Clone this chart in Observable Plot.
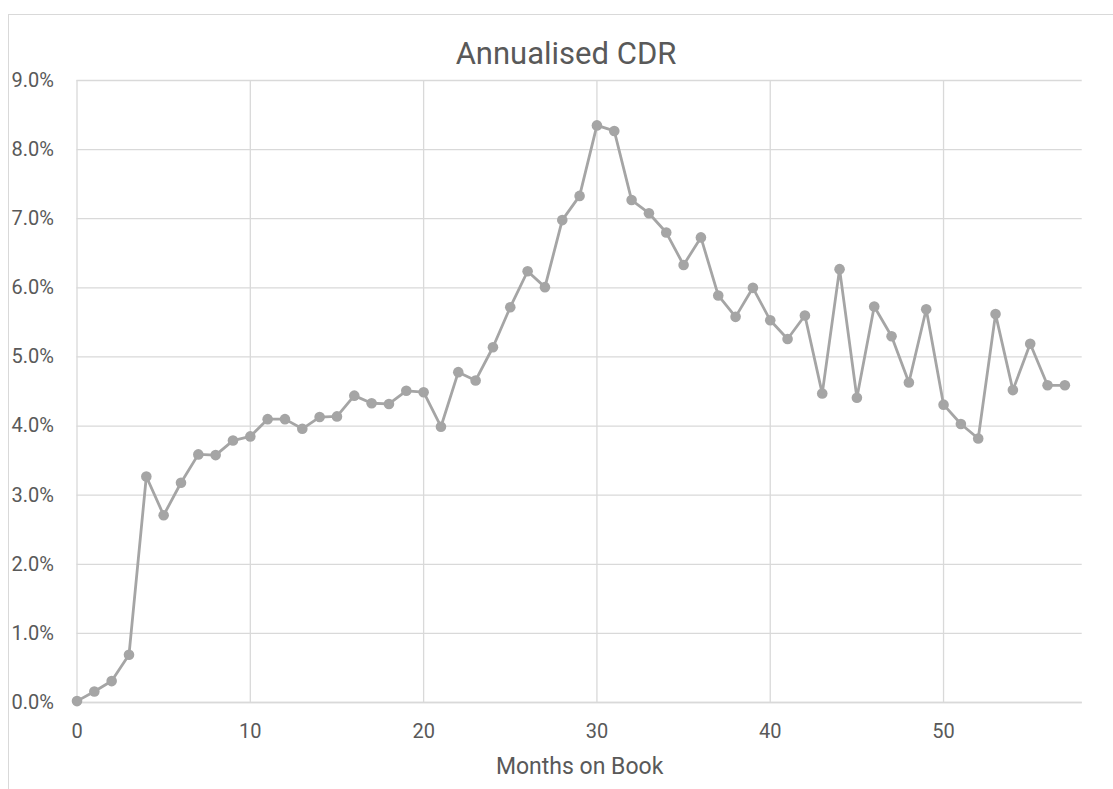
<!DOCTYPE html>
<html>
<head>
<meta charset="utf-8">
<script src="https://cdn.jsdelivr.net/npm/d3@7"></script>
<script src="https://cdn.jsdelivr.net/npm/@observablehq/plot@0.6"></script>
<style>
  html, body { margin: 0; padding: 0; background: #fff; }
  #chart { position: relative; width: 1113px; height: 789px; overflow: hidden; font-family: Roboto, "Open Sans", sans-serif; }
  #frame { position: absolute; left: 8px; top: 14px; width: 1300px; height: 1000px; border: 1px solid #d9d9d9; box-sizing: border-box; }
  #title { position: absolute; left: 0; top: 38px; width: 1132px; text-align: center; font-size: 31px; line-height: 31px; color: #595959; }
  #plot { position: absolute; left: 0; top: 70px; }
</style>
</head>
<body>
<div id="chart">
  <div id="frame"></div>
  <div id="title">Annualised CDR</div>
  <div id="plot"></div>
</div>
<script>
const months = [0,1,2,3,4,5,6,7,8,9,10,11,12,13,14,15,16,17,18,19,20,21,22,23,24,25,26,27,28,29,30,31,32,33,34,35,36,37,38,39,40,41,42,43,44,45,46,47,48,49,50,51,52,53,54,55,56,57];
const cdr = [0.02,0.16,0.31,0.69,3.27,2.71,3.18,3.59,3.58,3.79,3.85,4.10,4.10,3.96,4.13,4.14,4.44,4.33,4.32,4.51,4.49,3.99,4.78,4.66,5.14,5.72,6.24,6.01,6.98,7.33,8.35,8.27,7.27,7.08,6.80,6.33,6.73,5.89,5.58,6.00,5.53,5.26,5.60,4.47,6.27,4.41,5.73,5.30,4.63,5.69,4.31,4.03,3.82,5.62,4.52,5.19,4.59,4.59];
const xTicks = [0,10,20,30,40,50];
const yTicks = [0,1,2,3,4,5,6,7,8,9];
const xTitle = "Months on Book";

const data = months.map((m, i) => ({month: m, cdr: cdr[i]}));
const grid = "#d9d9d9";
const ink = "#595959";
const series = "#a5a5a5";

const chart = Plot.plot({
  width: 1113,
  height: 719,
  marginLeft: 76.5,
  marginRight: 31.3,
  marginTop: 10,
  marginBottom: 87,
  style: {fontFamily: "Roboto, 'Open Sans', sans-serif", background: "transparent", overflow: "visible"},
  x: {domain: [0, 58], ticks: xTicks, label: null},
  y: {domain: [0, 9], ticks: yTicks, label: null},
  marks: [
    Plot.gridX(xTicks, {stroke: grid, strokeOpacity: 1, strokeWidth: 1.3}),
    Plot.gridY(yTicks, {stroke: grid, strokeOpacity: 1, strokeWidth: 1.3}),
    Plot.ruleY([0], {stroke: grid, strokeWidth: 1.5}),
    Plot.axisX(xTicks, {tickSize: 0, tickPadding: 21, fontSize: 20, fill: ink, tickFormat: d => String(d), label: null}),
    Plot.axisY(yTicks, {tickSize: 0, tickPadding: 23, fontSize: 20, fill: ink, tickFormat: d => d.toFixed(1) + "%", label: null}),
    Plot.text([xTitle], {frameAnchor: "bottom", lineAnchor: "top", dy: 55, fontSize: 23, fill: ink, text: d => d}),
    Plot.line(data, {x: "month", y: "cdr", stroke: series, strokeWidth: 2.8}),
    Plot.dot(data, {x: "month", y: "cdr", r: 5.3, fill: series, stroke: "none"})
  ]
});
document.getElementById("plot").appendChild(chart);
</script>
</body>
</html>
